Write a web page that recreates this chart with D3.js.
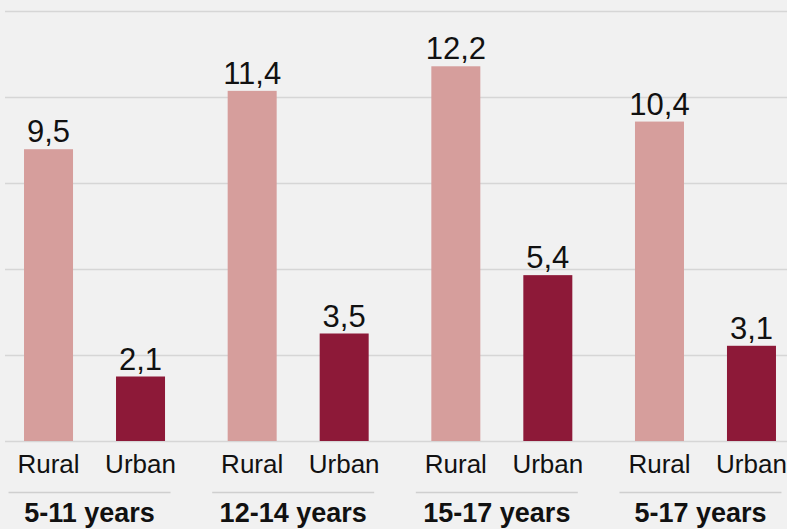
<!DOCTYPE html>
<html>
<head>
<meta charset="utf-8">
<script src="https://cdn.jsdelivr.net/npm/d3@7"></script>
<style>
  html, body { margin: 0; padding: 0; background: #f1f1f1; }
  svg { display: block; font-family: "Liberation Sans", Arial, sans-serif; }
</style>
</head>
<body>
<svg id="chart" width="787" height="529"></svg>
<script>
const groups = ["5-11 years", "12-14 years", "15-17 years", "5-17 years"];
const series = ["Rural", "Urban"];
const rural = [9.5, 11.4, 12.2, 10.4];
const urban = [2.1, 3.5, 5.4, 3.1];
const gridTicks = [0, 2.8, 5.6, 8.4, 11.2, 14];

const colors = { Rural: "#d69e9c", Urban: "#8d1938" };
const data = groups.map((g, i) => ({ group: g, values: [
  { key: "Rural", value: rural[i] },
  { key: "Urban", value: urban[i] }
]}));

const W = 787, H = 529;
const svg = d3.select("#chart");

const y = d3.scaleLinear().domain([0, 14]).range([441, 11]);
const x0 = d3.scaleBand().domain(groups).range([-7.3, 807.3]).padding(0);
const x1 = d3.scalePoint().domain(series).range([-46, 46]);
const barW = 49;
const fmt = v => d3.format(".1f")(v).replace(".", ",");

// gridlines
svg.append("g").selectAll("line").data(gridTicks).join("line")
  .attr("x1", 5).attr("x2", W)
  .attr("y1", d => Math.round(y(d)) + 0.5).attr("y2", d => Math.round(y(d)) + 0.5)
  .attr("stroke", "#d6d6d6").attr("stroke-width", 1.5);

const g = svg.append("g").selectAll("g").data(data).join("g")
  .attr("transform", d => `translate(${x0(d.group) + x0.bandwidth() / 2},0)`);

g.selectAll("rect").data(d => d.values).join("rect")
  .attr("x", d => x1(d.key) - barW / 2)
  .attr("width", barW)
  .attr("y", d => y(d.value))
  .attr("height", d => y(0) - y(d.value))
  .attr("fill", d => colors[d.key]);

g.selectAll("text.val").data(d => d.values).join("text")
  .attr("class", "val")
  .attr("x", d => x1(d.key))
  .attr("y", d => y(d.value) - 7)
  .attr("text-anchor", "middle")
  .attr("font-size", 31)
  .attr("fill", "#111")
  .text(d => fmt(d.value));

g.selectAll("text.ser").data(d => d.values).join("text")
  .attr("class", "ser")
  .attr("x", d => x1(d.key))
  .attr("y", 473)
  .attr("text-anchor", "middle")
  .attr("font-size", 26)
  .attr("fill", "#111")
  .text(d => d.key);

g.append("line")
  .attr("x1", -86).attr("x2", 76)
  .attr("y1", 492.5).attr("y2", 492.5)
  .attr("stroke", "#cfcfcf").attr("stroke-width", 1.5);

g.append("text")
  .attr("x", -5)
  .attr("y", 522)
  .attr("text-anchor", "middle")
  .attr("font-size", 27)
  .attr("font-weight", "bold")
  .attr("fill", "#111")
  .text(d => d.group);
</script>
</body>
</html>
